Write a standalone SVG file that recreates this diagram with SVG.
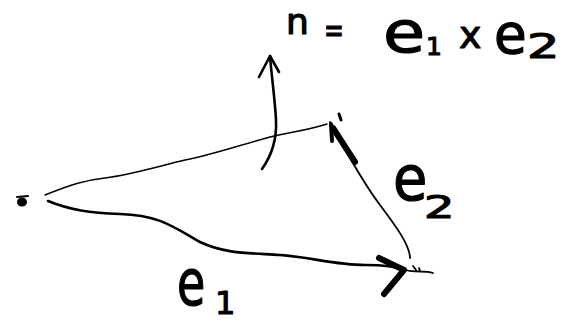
<svg xmlns="http://www.w3.org/2000/svg" width="571" height="323" viewBox="0 0 571 323">
<style>
.ink{fill:none;stroke:#000;stroke-linecap:round;stroke-linejoin:round}
.thin{stroke-width:1.4}
.med{stroke-width:2.6}
.thick{stroke-width:6}
.lbl{font-family:"DejaVu Sans","Noto Sans",sans-serif;fill:#000;stroke:#000;stroke-width:1.2;stroke-linejoin:round}
</style>
<rect width="571" height="323" fill="#fff"/>
<g id="origin">
<ellipse cx="22" cy="202" rx="5" ry="4.5" fill="#000"/>
<path class="ink" d="M17 197 L28 196" stroke-width="2"/>
</g>
<g id="connectors">
<path id="edge-top" class="ink thin" d="M45 195 C70 185 85 180 105 178 C130 175 160 166 185 160 C215 154 240 145 270 137 C290 132 310 130 327 124"/>
<path id="e1" class="ink med" d="M48 201 C70 210 90 213 120 214 C160 215 175 228 200 242 C225 254 250 253 280 255 C310 257 335 265 365 265 C380 265 395 266 404 270"/>
<path class="ink thick" d="M379 258 L404 270 L384 294"/>
<path class="ink" stroke-width="1.8" d="M406 270 C415 273 425 270 433 273 M413 266 L416 270 M419 268 L420 271"/>
<path id="e2" class="ink" stroke-width="1.8" d="M410 258 C410 245 395 225 380 205 C365 185 345 150 330 122"/>
<path class="ink thick" d="M355 162 L333 128"/>
<path class="ink" stroke-width="4" d="M331 124 L332 141"/>
<path class="ink" stroke-width="3" d="M339 114 L341 120"/>
<path id="normal" class="ink med" d="M262 169 C272 155 277 140 276 120 C275 100 272 80 270 56"/>
<path class="ink med" d="M259 77 L270 56 L279 72"/>
</g>
<g id="label-n">
<text class="lbl" x="286" y="34" font-size="36">n</text>
<text class="lbl" transform="translate(324,42) scale(0.7,1)" font-size="34">=</text>
<text class="lbl" transform="translate(383,52) scale(1.2,1)" font-size="57">e</text>
<text class="lbl" x="426" y="55" font-size="25">1</text>
<text class="lbl" x="459" y="48" font-size="38">x</text>
<text class="lbl" transform="translate(494,53) scale(0.95,1)" font-size="56">e</text>
<text class="lbl" transform="translate(527,58) scale(1.5,1)" font-size="34">2</text>
</g>
<g id="label-e2">
<text class="lbl" transform="translate(393,200) scale(0.9,1)" font-size="62">e</text>
<text class="lbl" transform="translate(424,218) scale(1.5,1)" font-size="32">2</text>
</g>
<g id="label-e1">
<text class="lbl" transform="translate(177,305) scale(0.72,1)" font-size="64">e</text>
<text class="lbl" x="215" y="314" font-size="32">1</text>
</g>
</svg>
